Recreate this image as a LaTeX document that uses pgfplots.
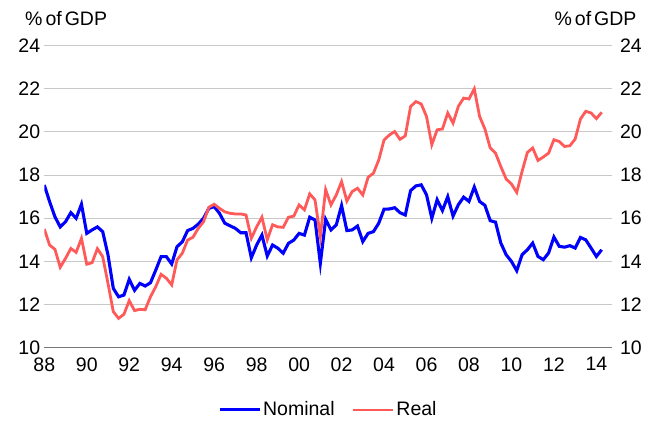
\documentclass[border=0pt]{standalone}
\usepackage{pgfplots}
\pgfplotsset{compat=1.18}
\usepackage{pgfplotstable}
\usepackage{fontspec}
\setmainfont{Liberation Sans}
\definecolor{nomblue}{RGB}{0,0,255}
\definecolor{realred}{RGB}{255,90,90}
\definecolor{gridgray}{RGB}{200,200,200}
\definecolor{axisgray}{RGB}{120,120,120}
\pgfplotstableread{
year nominal real
1988.00 17.54 15.50
1988.25 16.77 14.76
1988.50 16.07 14.56
1988.75 15.60 13.73
1989.00 15.84 14.14
1989.25 16.26 14.60
1989.50 16.00 14.42
1989.75 16.65 15.07
1990.00 15.30 13.87
1990.25 15.46 13.94
1990.50 15.60 14.59
1990.75 15.38 14.22
1991.00 14.30 12.98
1991.25 12.75 11.67
1991.50 12.36 11.36
1991.75 12.44 11.55
1992.00 13.17 12.18
1992.25 12.66 11.72
1992.50 12.98 11.78
1992.75 12.86 11.76
1993.00 13.01 12.36
1993.25 13.60 12.83
1993.50 14.22 13.40
1993.75 14.22 13.22
1994.00 13.88 12.91
1994.25 14.68 14.07
1994.50 14.91 14.38
1994.75 15.43 14.99
1995.00 15.53 15.12
1995.25 15.73 15.53
1995.50 16.00 15.84
1995.75 16.46 16.51
1996.00 16.54 16.65
1996.25 16.23 16.46
1996.50 15.77 16.30
1996.75 15.65 16.23
1997.00 15.53 16.20
1997.25 15.33 16.20
1997.50 15.33 16.15
1997.75 14.17 15.07
1998.00 14.76 15.60
1998.25 15.22 16.05
1998.50 14.25 15.00
1998.75 14.76 15.70
1999.00 14.61 15.60
1999.25 14.38 15.58
1999.50 14.84 16.05
1999.75 14.99 16.10
2000.00 15.30 16.62
2000.25 15.22 16.39
2000.50 16.05 17.13
2000.75 15.92 16.85
2001.00 13.91 15.15
2001.25 15.95 17.33
2001.50 15.46 16.62
2001.75 15.69 17.08
2002.00 16.59 17.70
2002.25 15.43 16.80
2002.50 15.46 17.24
2002.75 15.64 17.39
2003.00 14.92 17.08
2003.25 15.30 17.90
2003.50 15.38 18.09
2003.75 15.77 18.70
2004.00 16.42 19.63
2004.25 16.43 19.86
2004.50 16.49 20.02
2004.75 16.26 19.66
2005.00 16.15 19.82
2005.25 17.28 21.18
2005.50 17.50 21.41
2005.75 17.55 21.30
2006.00 17.09 20.72
2006.25 16.00 19.41
2006.50 16.86 20.10
2006.75 16.36 20.14
2007.00 17.00 20.88
2007.25 16.10 20.41
2007.50 16.63 21.19
2007.75 16.98 21.57
2008.00 16.78 21.53
2008.25 17.45 22.00
2008.50 16.78 20.72
2008.75 16.60 20.14
2009.00 15.89 19.26
2009.25 15.82 19.02
2009.50 14.85 18.40
2009.75 14.31 17.82
2010.00 14.00 17.59
2010.25 13.57 17.20
2010.50 14.31 18.17
2010.75 14.54 19.05
2011.00 14.85 19.26
2011.25 14.23 18.68
2011.50 14.08 18.84
2011.75 14.39 19.02
2012.00 15.13 19.64
2012.25 14.70 19.56
2012.50 14.66 19.33
2012.75 14.73 19.36
2013.00 14.62 19.67
2013.25 15.11 20.60
2013.50 15.00 20.96
2013.75 14.62 20.88
2014.00 14.23 20.62
2014.25 14.54 20.91
}\datatable

\begin{document}
\fontsize{19.5bp}{23bp}\selectfont
\begin{tikzpicture}
\useasboundingbox (0,0) rectangle (657bp,421bp);
\begin{axis}[
  at={(44.3bp,73.3bp)}, anchor=south west,
  scale only axis, width=568bp, height=302bp,
  xmin=1988, xmax=2014.75, ymin=10, ymax=24,
  ytick={10,12,...,24},
  xtick={1988,1990,...,2014},
  xticklabels={88,90,92,94,96,98,00,02,04,06,08,10,12,14},
  separate axis lines,
  axis x line*=bottom,
  axis y line*=left,
  y axis line style={draw=none},
  x axis line style={draw=axisgray, line width=1.5bp, -},
  major tick length=0pt,
  xtick style={draw=none}, ytick style={draw=none},
  ymajorgrids,
  grid style={draw=gridgray, line width=1bp},
  /pgf/number format/assume math mode=true,
  tick label style={font=\fontsize{19.5bp}{23bp}\selectfont},
  yticklabel style={xshift=2.5bp},
  xticklabel style={yshift=-3bp},
  legend style={at={(0.5,-0.206)}, anchor=center, draw=none, fill=none,
    legend columns=2, font=\fontsize{19.5bp}{23bp}\selectfont,
    /tikz/every even column/.append style={column sep=15bp}},
  legend cell align=left,
  legend image code/.code={\draw[#1] (0bp,0bp) -- (40bp,0bp);},
]
\addplot[nomblue, line width=3.1bp] table[x=year, y=nominal] {\datatable};
\addlegendentry{Nominal}
\addplot[realred, line width=2.8bp] table[x=year, y=real] {\datatable};
\addlegendentry{Real}
\end{axis}
\begin{axis}[
  at={(44.3bp,73.3bp)}, anchor=south west,
  scale only axis, width=568bp, height=302bp,
  xmin=1988, xmax=2014.75, ymin=10, ymax=24,
  ytick={10,12,...,24},
  axis x line=none,
  axis y line*=right,
  y axis line style={draw=none},
  major tick length=0pt,
  ytick style={draw=none},
  /pgf/number format/assume math mode=true,
  tick label style={font=\fontsize{19.5bp}{23bp}\selectfont},
  yticklabel style={xshift=1bp},
]
\end{axis}
\node[anchor=west, inner sep=0pt] at (25bp,402.2bp) {\%\hspace{3bp}of\hspace{3bp}GDP};
\node[anchor=east, inner sep=0pt] at (636.7bp,402.2bp) {\%\hspace{3bp}of\hspace{3bp}GDP};
\end{tikzpicture}
\end{document}
